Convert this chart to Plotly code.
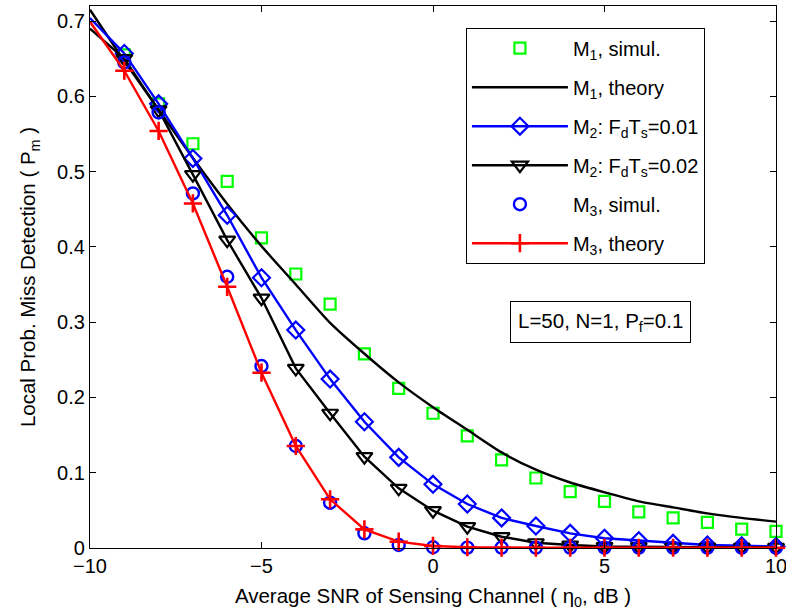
import plotly.graph_objects as go

# ---- data ----
snr_db = [-10, -9, -8, -7, -6, -5, -4, -3, -2, -1, 0, 1, 2, 3, 4, 5, 6, 7, 8, 9, 10]

m1_simul = [None, 0.655, 0.59, 0.537, 0.487, 0.412, 0.364, 0.324, 0.258, 0.212, 0.179,
            0.149, 0.117, 0.093, 0.075, 0.062, 0.048, 0.040, 0.034, 0.025, 0.022]
m1_theory = [0.715, 0.647, 0.582, 0.518, 0.457, 0.401, 0.350, 0.299, 0.258, 0.220, 0.187,
             0.157, 0.127, 0.104, 0.087, 0.074, 0.062, 0.054, 0.046, 0.040, 0.035]
m2_fd001 = [0.704, 0.657, 0.590, 0.5175, 0.442, 0.359, 0.2895, 0.2244, 0.1677, 0.1204, 0.0846,
            0.0584, 0.040, 0.0292, 0.0195, 0.0129, 0.0097, 0.0062, 0.004, 0.003, 0.002]
m2_fd002 = [0.690, 0.650, 0.582, 0.496, 0.409, 0.332, 0.2386, 0.179, 0.1213, 0.0793, 0.0496,
            0.0283, 0.015, 0.007, 0.004, 0.002, 0.0015, 0.001, 0.001, 0.001, 0.001]
m3_simul = [None, 0.645, 0.5786, 0.471, 0.3603, 0.2417, 0.1355, 0.0602, 0.0195, 0.004, 0.001,
            0.0005, 0.0005, 0.0005, 0.0005, 0.0005, 0.0005, 0.0005, 0.0005, 0.0005, 0.0005]
m3_theory = [0.699, 0.634, 0.554, 0.4577, 0.347, 0.2329, 0.1355, 0.0647, 0.0248, 0.0084, 0.0027,
             0.001, 0.0004, 0.0003, 0.0003, 0.0003, 0.0003, 0.0003, 0.0003, 0.0003, 0.0003]

x_ticks = [-10, -5, 0, 5, 10]
y_ticks = [0, 0.1, 0.2, 0.3, 0.4, 0.5, 0.6, 0.7]

FONT = "Liberation Sans, Arial, Helvetica, sans-serif"
FS = 20
GREEN, BLUE, RED, BLACK = "#00ff00", "#0000ff", "#ff0000", "#000000"
LW = 2.4

fig = go.Figure()

# M1 simul (green squares)
fig.add_trace(go.Scatter(
    x=snr_db[1:], y=m1_simul[1:], mode="markers", name="M<sub>1</sub>, simul.",
    marker=dict(symbol="square-open", size=11, color=GREEN, line=dict(width=2.2, color=GREEN)),
    cliponaxis=False, legendgroup="a"))

# M1 theory (black smooth line)
fig.add_trace(go.Scatter(
    x=snr_db, y=m1_theory, mode="lines", name="M<sub>1</sub>, theory",
    line=dict(color=BLACK, width=LW, shape="spline", smoothing=0.6),
    cliponaxis=False, legendgroup="b"))

def line_with_markers(y, name, color, symbol, size, group, mlw=2.2):
    # line segment from the first point (no marker at -10)
    fig.add_trace(go.Scatter(
        x=snr_db[:2], y=y[:2], mode="lines", showlegend=False,
        line=dict(color=color, width=LW), cliponaxis=False, legendgroup=group))
    fig.add_trace(go.Scatter(
        x=snr_db[1:], y=y[1:], mode="lines+markers", name=name,
        line=dict(color=color, width=LW),
        marker=dict(symbol=symbol, size=size, color=color, line=dict(width=mlw, color=color)),
        cliponaxis=False, legendgroup=group))

line_with_markers(m2_fd001, "M<sub>2</sub>: F<sub>d</sub>T<sub>s</sub>=0.01", BLUE, "diamond-open", 13, "c")
line_with_markers(m2_fd002, "M<sub>2</sub>: F<sub>d</sub>T<sub>s</sub>=0.02", BLACK, "triangle-down-open", 14, "d")

# M3 simul (blue circles)
fig.add_trace(go.Scatter(
    x=snr_db[1:], y=m3_simul[1:], mode="markers", name="M<sub>3</sub>, simul.",
    marker=dict(symbol="circle-open", size=12, color=BLUE, line=dict(width=2.4, color=BLUE)),
    cliponaxis=False, legendgroup="e"))

# M3 theory (red line with +)
line_with_markers(m3_theory, "M<sub>3</sub>, theory", RED, "cross-thin-open", 13, "f", mlw=2.6)

fig.add_annotation(
    x=4.87, y=0.30, xref="x", yref="y",
    text="L=50, N=1, P<sub>f</sub>=0.1", showarrow=False,
    font=dict(family=FONT, size=20.5, color=BLACK),
    bordercolor=BLACK, borderwidth=1, borderpad=7, bgcolor="white")

fig.update_layout(
    width=786, height=610,
    margin=dict(l=90, r=10, t=6, b=62),
    paper_bgcolor="white", plot_bgcolor="white",
    font=dict(family=FONT, size=FS, color=BLACK),
    showlegend=True,
    legend=dict(
        x=0.548, y=0.96, xanchor="left", yanchor="top",
        bgcolor="white", bordercolor=BLACK, borderwidth=1,
        font=dict(family=FONT, size=20, color=BLACK),
        tracegroupgap=10, itemwidth=96,
        entrywidth=226, entrywidthmode="pixels",
    ),
    xaxis=dict(
        range=[-10, 10], tickvals=x_ticks, ticks="inside", ticklen=6, tickwidth=1,
        tickcolor=BLACK, showline=True, linecolor=BLACK, linewidth=1.2, mirror="ticks",
        showgrid=False, zeroline=False, ticklabeloverflow="allow", automargin=False,
        title=dict(text="Average SNR of Sensing Channel ( η<sub>0</sub>, dB )",
                   font=dict(size=20.5)),
    ),
    yaxis=dict(
        range=[0, 0.72], tickvals=y_ticks, ticks="inside", ticklen=6, tickwidth=1,
        tickcolor=BLACK, showline=True, linecolor=BLACK, linewidth=1.2, mirror="ticks",
        showgrid=False, zeroline=False, ticklabeloverflow="allow", automargin=False,
        title=dict(text="Local Prob. Miss Detection ( P<sub>m</sub> )",
                   font=dict(size=20.5)),
    ),
)

fig.write_html("out.html", config={"displayModeBar": False},
               post_script="document.body.style.margin='0';")
